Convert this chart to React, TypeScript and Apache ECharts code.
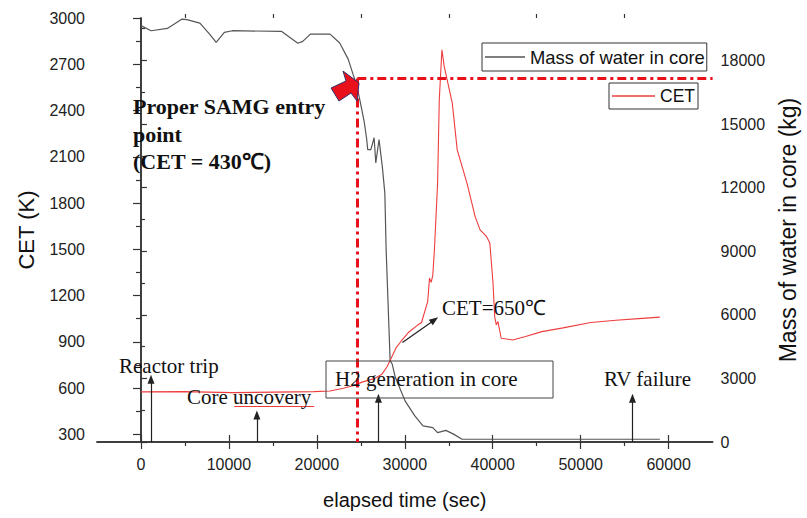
import React, { useEffect, useRef } from "react";
import * as echarts from "echarts";

// ---- data ----
const TIME_MASS = [0, 1150, 3000, 4670, 5220, 6700, 7800, 8550, 9480, 10400, 15960, 17840, 18400, 19260, 21500, 22600, 23560, 24110, 24560, 25030, 25400, 25670, 25780, 26140, 26510, 26700, 27070, 27440, 27730, 27880, 28330, 28560, 28920, 30030, 31140, 32070, 33180, 33730, 34670, 35590, 36510, 59000];
const MASS = [19640, 19400, 19510, 19950, 19920, 19760, 19240, 18850, 19320, 19400, 19370, 18810, 18900, 19240, 19240, 18820, 18060, 17350, 16790, 15840, 15060, 14270, 13790, 13790, 14350, 13160, 14270, 13000, 11740, 9050, 3840, 3680, 3050, 1940, 1230, 760, 680, 440, 550, 360, 130, 130];

const TIME_CET = [0, 4840, 10400, 19670, 21500, 23000, 24100, 25220, 26500, 27400, 28000, 28500, 29000, 29560, 30400, 31500, 31900, 32600, 32810, 33000, 33180, 33370, 33730, 33920, 34220, 34480, 35400, 35960, 37070, 38000, 38560, 39290, 39670, 40030, 40220, 40400, 40590, 40960, 42260, 43730, 45590, 48000, 51150, 54000, 57000, 59000];
const CET = [575, 577, 570, 577, 581, 599, 615, 640, 660, 690, 740, 800, 860, 902, 960, 1010, 1025, 1160, 1313, 1285, 1330, 1500, 1929, 2470, 2794, 2686, 2448, 2145, 1929, 1712, 1626, 1583, 1540, 1280, 1063, 1010, 1031, 923, 912, 934, 966, 990, 1025, 1040, 1052, 1060];

const X_TICKS = [0, 10000, 20000, 30000, 40000, 50000, 60000];
const X_MINOR = [5000, 15000, 25000, 35000, 45000, 55000];
const CET_TICKS = [300, 600, 900, 1200, 1500, 1800, 2100, 2400, 2700, 3000];
const CET_MINOR = [450, 750, 1050, 1350, 1650, 1950, 2250, 2550, 2850];
const MASS_TICKS = [0, 3000, 6000, 9000, 12000, 15000, 18000];
const MASS_MINOR = [1500, 4500, 7500, 10500, 13500, 16500, 19500];

// event arrows: [time, CET at arrow tip]
const EVENT_ARROWS = [
  [1140, 657],
  [13180, 425],
  [27000, 534],
  [55890, 534],
];
// SAMG entry point (time, mass)
const SAMG_POINT = [24600, 17150];
// CET=650 arrow [from, to]
const CET650_ARROW = [[29730, 895], [33370, 1042]];
// red underline under "Core uncovery"
const UNCOVERY_LINE = [[10600, 484], [19700, 484]];

const SANS = "'Liberation Sans', Arial, sans-serif";
const SERIF = "'Liberation Serif', 'Times New Roman', serif";
const AXC = "#333";
const RED = "#ef3d3d";
const DASHRED = "#e8101a";

const zip = (a: number[], b: number[]) => a.map((v, i) => [v, b[i]]);

const axisLine = { show: true, lineStyle: { color: AXC, width: 1.5 } };
const noSplit = { show: false };
const fmt = (v: number) => String(v);

export default function App() {
  const ref = useRef<HTMLDivElement>(null);
  useEffect(() => {
    if (!ref.current) return;
    const chart = echarts.init(ref.current, null, { renderer: "svg" });
    const xBase = { type: "value", min: -5000, max: 65000, splitLine: noSplit };
    const legendBase = {
      icon: "rect",
      itemHeight: 1.3,
      borderColor: "#333",
      borderWidth: 1,
      orient: "horizontal",
    };
    const option: any = {
      animation: false,
      backgroundColor: "#fff",
      textStyle: { fontFamily: SANS },
      grid: { left: 97, right: 84, top: 18, bottom: 76, containLabel: false },
      legend: [
        {
          ...legendBase,
          data: ["Mass of water in core"],
          left: 482,
          top: 43,
          padding: [5, 2, 5, 3],
          itemWidth: 40,
          textStyle: { fontFamily: SANS, fontSize: 18.4, color: "#111" },
        },
        {
          ...legendBase,
          data: ["CET"],
          left: 609,
          top: 83,
          padding: [4, 3, 4, 3],
          itemWidth: 43,
          textStyle: { fontFamily: SANS, fontSize: 17.5, color: "#111" },
        },
      ],
      xAxis: [
        {
          ...xBase,
          position: "bottom",
          axisLine,
          axisTick: { show: true, customValues: X_TICKS, length: 7, lineStyle: { color: AXC, width: 1.2 } },
          axisLabel: { show: true, customValues: X_TICKS, formatter: fmt, margin: 14, fontSize: 16, fontFamily: SANS, color: "#222" },
          name: "elapsed time (sec)",
          nameLocation: "middle",
          nameGap: 48,
          nameTextStyle: { fontSize: 20, fontFamily: SANS, color: "#111" },
        },
        {
          ...xBase,
          position: "top",
          axisLine,
          axisTick: { show: true, customValues: X_TICKS, length: 7, lineStyle: { color: AXC, width: 1.2 } },
          axisLabel: { show: false },
        },
        {
          ...xBase,
          position: "bottom",
          axisLine: { show: false },
          axisTick: { show: true, customValues: X_MINOR, length: 4, lineStyle: { color: AXC, width: 1.2 } },
          axisLabel: { show: false },
        },
        {
          ...xBase,
          position: "top",
          axisLine: { show: false },
          axisTick: { show: true, customValues: X_MINOR, length: 4, lineStyle: { color: AXC, width: 1.2 } },
          axisLabel: { show: false },
        },
      ],
      yAxis: [
        {
          type: "value",
          position: "left",
          min: 250,
          max: 3000,
          splitLine: noSplit,
          axisLine,
          axisTick: { show: true, customValues: CET_TICKS, length: 8, lineStyle: { color: AXC, width: 1.2 } },
          axisLabel: { show: true, customValues: CET_TICKS, formatter: fmt, margin: 12, fontSize: 16, fontFamily: SANS, color: "#222" },
          name: "CET (K)",
          nameLocation: "middle",
          nameRotate: 90,
          nameGap: 60,
          nameTextStyle: { fontSize: 22, fontFamily: SANS, color: "#111" },
        },
        {
          type: "value",
          position: "right",
          min: 0,
          max: 20000,
          splitLine: noSplit,
          axisLine,
          axisTick: { show: true, customValues: MASS_TICKS, length: 6, lineStyle: { color: AXC, width: 1.2 } },
          axisLabel: { show: true, customValues: MASS_TICKS, formatter: fmt, margin: 8, fontSize: 16, fontFamily: SANS, color: "#222" },
          name: "Mass of water in core (kg)",
          nameLocation: "middle",
          nameRotate: 90,
          nameGap: 48,
          nameTextStyle: { fontSize: 23, fontFamily: SANS, color: "#111" },
        },
        {
          type: "value",
          position: "left",
          min: 250,
          max: 3000,
          splitLine: noSplit,
          axisLine: { show: false },
          axisTick: { show: true, customValues: CET_MINOR, length: 5, lineStyle: { color: AXC, width: 1.2 } },
          axisLabel: { show: false },
        },
        {
          type: "value",
          position: "right",
          min: 0,
          max: 20000,
          splitLine: noSplit,
          axisLine: { show: false },
          axisTick: { show: true, customValues: MASS_MINOR, length: 4, lineStyle: { color: AXC, width: 1.2 } },
          axisLabel: { show: false },
        },
      ],
      series: [
        {
          name: "Mass of water in core",
          type: "line",
          xAxisIndex: 0,
          yAxisIndex: 1,
          data: zip(TIME_MASS, MASS),
          symbol: "none",
          lineStyle: { color: "#555", width: 1.2 },
          itemStyle: { color: "#555" },
          z: 3,
          markLine: {
            silent: true,
            symbol: ["none", "none"],
            label: { show: false },
            lineStyle: { color: DASHRED, width: 3, type: [9, 4, 3, 4] },
            data: [
              [{ coord: SAMG_POINT }, { coord: [65000, SAMG_POINT[1]] }],
              [{ coord: SAMG_POINT }, { coord: [SAMG_POINT[0], 0] }],
            ],
          },
        },
        {
          name: "CET",
          type: "line",
          xAxisIndex: 0,
          yAxisIndex: 0,
          data: zip(TIME_CET, CET),
          symbol: "none",
          lineStyle: { color: RED, width: 1.1 },
          itemStyle: { color: RED },
          z: 4,
          markLine: {
            silent: true,
            symbol: ["none", "triangle"],
            symbolSize: [7, 9],
            label: { show: false },
            lineStyle: { color: "#222", width: 1.2, type: "solid" },
            data: [
              ...EVENT_ARROWS.map(([t, c]) => [{ coord: [t, 250] }, { coord: [t, c] }]),
              [{ coord: CET650_ARROW[0] }, { coord: CET650_ARROW[1] }],
              [
                { coord: UNCOVERY_LINE[0], symbol: "none", lineStyle: { color: RED, width: 1.1 } },
                { coord: UNCOVERY_LINE[1], symbol: "none" },
              ],
            ],
          },
        },
      ],
      graphic: [
        {
          type: "polygon",
          shape: { points: [[331, 88], [346, 81], [343, 71], [359, 83], [357, 101], [351, 93], [339, 101]] },
          style: { fill: "#e8101a", stroke: "#3a2f6e", lineWidth: 1 },
          z: 10,
        },
        {
          type: "text",
          x: 133,
          y: 93,
          style: { text: "Proper SAMG entry\npoint\n(CET = 430℃)", fontFamily: SERIF, fontWeight: "bold", fontSize: 22, lineHeight: 27.5, fill: "#111", align: "left", verticalAlign: "top" },
          z: 10,
        },
        { type: "text", x: 119, y: 366, style: { text: "Reactor trip", fontFamily: SERIF, fontSize: 21, fill: "#111", align: "left", verticalAlign: "middle" }, z: 10 },
        { type: "text", x: 187, y: 397, style: { text: "Core uncovery", fontFamily: SERIF, fontSize: 21, fill: "#111", align: "left", verticalAlign: "middle" }, z: 10 },
        { type: "rect", shape: { x: 326, y: 361, width: 227, height: 37 }, style: { fill: "none", stroke: "#444", lineWidth: 1 }, z: 10 },
        { type: "text", x: 335, y: 379, style: { text: "H2 generation in core", fontFamily: SERIF, fontSize: 21, fill: "#111", align: "left", verticalAlign: "middle" }, z: 10 },
        { type: "text", x: 604, y: 379, style: { text: "RV failure", fontFamily: SERIF, fontSize: 21, fill: "#111", align: "left", verticalAlign: "middle" }, z: 10 },
        { type: "text", x: 442, y: 308, style: { text: "CET=650℃", fontFamily: SERIF, fontSize: 21, fill: "#111", align: "left", verticalAlign: "middle" }, z: 10 },
      ],
    };
    chart.setOption(option);
    return () => chart.dispose();
  }, []);
  return <div ref={ref} style={{ position: "absolute", left: 0, top: 0, width: 807, height: 518 }} />;
}
